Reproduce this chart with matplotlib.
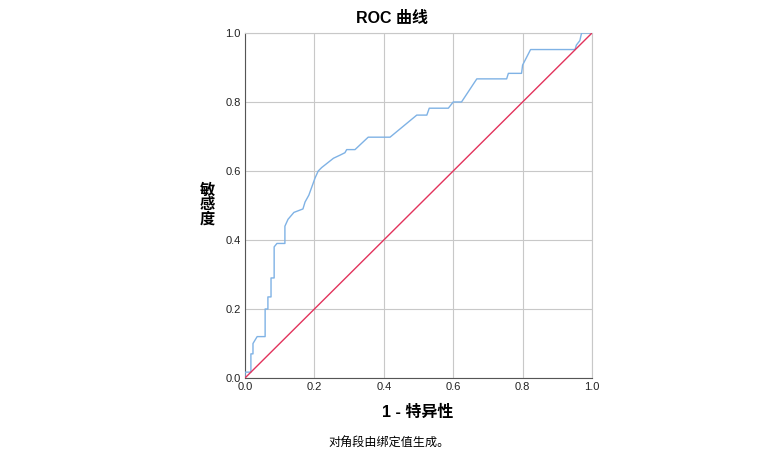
import matplotlib
matplotlib.use("Agg")
import matplotlib.pyplot as plt

plt.rcParams['font.family'] = ['Liberation Sans', 'Noto Sans CJK SC', 'DejaVu Sans']

# ================================
# Data
# ================================
fpr = [0.0, 0.0, 0.017, 0.017, 0.023, 0.023, 0.035, 0.058, 0.058, 0.066, 0.066,
       0.075, 0.075, 0.084, 0.084, 0.092, 0.115, 0.115, 0.124, 0.141, 0.167,
       0.173, 0.184, 0.202, 0.211, 0.221, 0.255, 0.274, 0.288, 0.293, 0.317,
       0.355, 0.418, 0.495, 0.524, 0.531, 0.586, 0.600, 0.624, 0.668, 0.754,
       0.759, 0.797, 0.800, 0.823, 0.951, 0.955, 0.965, 0.970, 1.0]
tpr = [0.0, 0.017, 0.017, 0.07, 0.07, 0.10, 0.12, 0.12, 0.20, 0.20, 0.235,
       0.235, 0.29, 0.29, 0.38, 0.39, 0.39, 0.44, 0.46, 0.48, 0.49,
       0.51, 0.53, 0.58, 0.60, 0.61, 0.637, 0.646, 0.653, 0.662, 0.662,
       0.698, 0.698, 0.762, 0.762, 0.782, 0.782, 0.80, 0.80, 0.867, 0.867,
       0.883, 0.883, 0.907, 0.952, 0.952, 0.965, 0.978, 1.0, 1.0]
diag = [0.0, 1.0]
ticks = [0.0, 0.2, 0.4, 0.6, 0.8, 1.0]

# ================================
# Plot
# ================================
fig = plt.figure(figsize=(7.84, 4.62), dpi=100)
ax = fig.add_axes([0.3125, 0.1818, 0.4426, 0.7468])

ax.plot(fpr, tpr, color='#7fb2e5', linewidth=1.0, zorder=3)
ax.plot(diag, diag, color='#e2335c', linewidth=1.0, zorder=3)

ax.set_xlim(0, 1)
ax.set_ylim(0, 1)
ax.set_xticks(ticks)
ax.set_yticks(ticks)
ax.set_xticklabels([f"{t:.1f}" for t in ticks])
ax.set_yticklabels([f"{t:.1f}" for t in ticks])
ax.tick_params(length=0, labelsize=8, pad=3, colors='#222222')
ax.grid(True, color='#c8c8c8', linewidth=0.8)
ax.set_axisbelow(True)
for side in ['top', 'right']:
    ax.spines[side].set_color('#c8c8c8')
for side in ['left', 'bottom']:
    ax.spines[side].set_color('#555555')

fig.text(0.5, 0.961, "ROC 曲线", ha='center', va='center', fontsize=11.5, fontweight='bold')
fig.text(0.533, 0.108, "1 - 特异性", ha='center', va='center', fontsize=11.5, fontweight='bold')
fig.text(0.264, 0.556, "敏\n感\n度", ha='center', va='center', fontsize=11,
         fontweight='bold', linespacing=1.0)
fig.text(0.496, 0.039, "对角段由绑定值生成。", ha='center', va='center', fontsize=8.7)

plt.savefig("out.png", dpi=100)
plt.close()
